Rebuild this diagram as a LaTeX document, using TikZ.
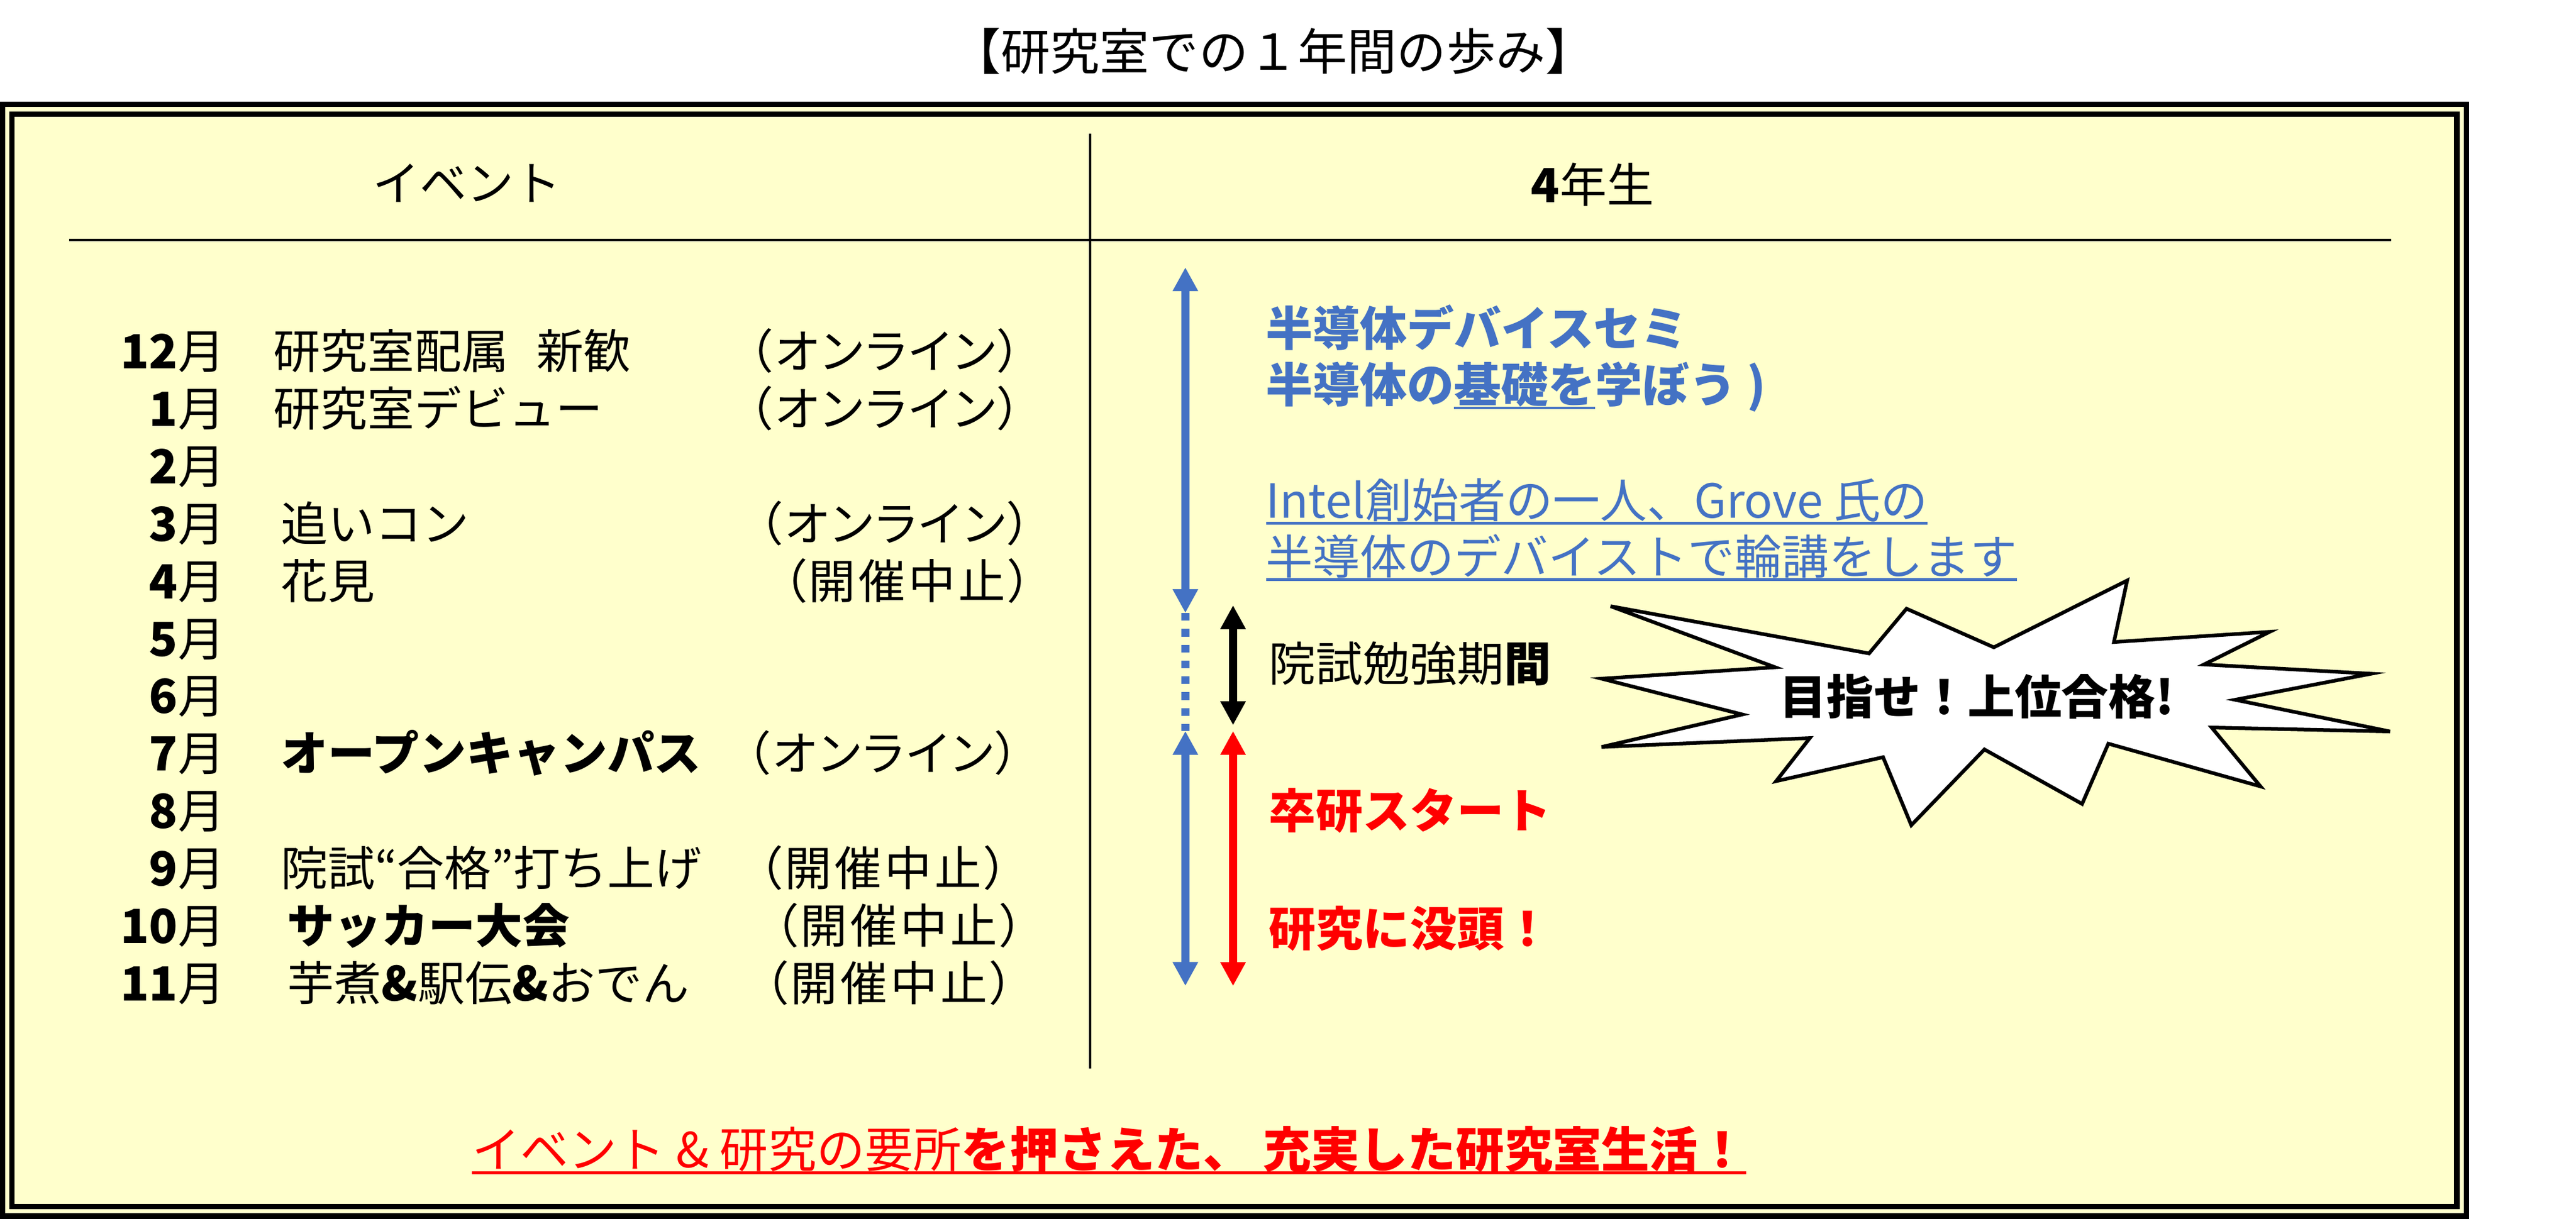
\documentclass[tikz,border=0pt]{standalone}
\usepackage{fontspec}
\setmainfont{Noto Sans CJK JP}
\newfontfamily\jpp[RawFeature=+palt,LetterSpace=6]{Noto Sans CJK JP}
\usetikzlibrary{arrows.meta,positioning}
\definecolor{paper}{HTML}{FFFFCC}
\definecolor{semiblue}{HTML}{4472C4}
\newcommand\rowfont{\fontsize{28.5}{34}\selectfont}
\newcommand\undl[1]{\setbox0=\hbox{#1}\rlap{\rule[-4pt]{\wd0}{1.5pt}}\box0}

\begin{document}
\begin{tikzpicture}[x=1pt,y=-1pt,>={Triangle[length=14.5pt,width=14.5pt]},
	txt/.style={inner sep=0pt,font=\rowfont,anchor=base west},
	month/.style={txt,anchor=base east},
	paren/.style={txt,font=\rowfont\jpp},
	blue txt/.style={txt,text=semiblue},
	red txt/.style={txt,text=red,font=\rowfont\bfseries},
	span/.style={<->,line width=5pt},
	rule/.style={line width=1.5pt}]
	\useasboundingbox (0,0) rectangle (1561,738.75);
	
	\draw[line width=3.2pt,double=paper,double distance=2.6pt,fill=paper] (4.4,66.2) rectangle (1491.7,734.1);
	\node[font=\fontsize{30}{36}\selectfont] (title) at (771.5,31) {【研究室での１年間の歩み】};
	
	\node[txt,anchor=center] (evhead) at (283,111) {イベント};
	\node[txt,anchor=center] (grade) at (965,112) {\textbf{4}年生};
	\draw[rule] (660.6,81) -- (660.6,647.5);
	\draw[rule] (42,145.3) -- (1449,145.3);
	
	% months
	\foreach \m [count=\i from 0] in {12,1,2,3,4,5,6,7,8,9,10,11}
		\node[month] (m\m) at (136.5,223.6+34.8*\i) {\textbf{\m}月};
	
	\node[txt] (ev12) [right=29pt of m12.base east,anchor=base west] {研究室配属\hspace{0.6em}新歓};
	\node[paren] (pr12) [right=317pt of m12.base east,anchor=base west] {（オンライン）};
	\node[txt] (ev1) [right=29pt of m1.base east,anchor=base west] {研究室デビュー};
	\node[paren] (pr1) [right=317pt of m1.base east,anchor=base west] {（オンライン）};
	\node[txt] (ev3) [right=33.5pt of m3.base east,anchor=base west] {追いコン};
	\node[paren] (pr3) [right=323pt of m3.base east,anchor=base west] {（オンライン）};
	\node[txt] (ev4) [right=33.5pt of m4.base east,anchor=base west] {花見};
	\node[paren] (pr4) [right=337.5pt of m4.base east,anchor=base west] {（開催中止）};
	\node[txt] (ev7) [right=33.5pt of m7.base east,anchor=base west] {\textbf{オープンキャンパス}};
	\node[paren] (pr7) [right=315.5pt of m7.base east,anchor=base west] {（オンライン）};
	\node[txt] (ev9) [right=33.5pt of m9.base east,anchor=base west] {院試“合格”打ち上げ};
	\node[paren] (pr9) [right=323pt of m9.base east,anchor=base west] {（開催中止）};
	\node[txt] (ev10) [right=37.5pt of m10.base east,anchor=base west] {\textbf{サッカー大会}};
	\node[paren] (pr10) [right=332.5pt of m10.base east,anchor=base west] {（開催中止）};
	\node[txt] (ev11) [right=37.5pt of m11.base east,anchor=base west] {芋煮\textbf{\&}駅伝\textbf{\&}おでん};
	\node[paren] (pr11) [right=326.5pt of m11.base east,anchor=base west] {（開催中止）};
	
	\node[blue txt,font=\rowfont\bfseries] (semi) at (767,209.6) {半導体デバイスセミ};
	\node[blue txt,font=\rowfont\bfseries] (kiso) at (767,244) {半導体の\undl{基礎を}学ぼう )};
	\node[blue txt] (intel) at (767,313.8) {\undl{Intel創始者の一人、Grove 氏の}};
	\node[blue txt] (rinko) at (767,348) {\undl{半導体のデバイストで輪講をします}};
	\node[txt] (inshi) at (768.7,413) {院試勉強期\textbf{間}};
	\node[red txt] (start) at (768.7,502) {卒研スタート};
	\node[red txt] (botto) at (768.7,573.5) {研究に没頭！};
	
	\coordinate (b1) at (718.3,162);
	\coordinate (b2) at (718.3,371.5);
	\coordinate (b3) at (718.3,443);
	\coordinate (b4) at (718.3,597.5);
	\coordinate (k1) at (747.2,366.8);
	\coordinate (k2) at (747.2,439.5);
	\coordinate (r1) at (747.2,443);
	\coordinate (r2) at (747.2,597.6);
	\draw[span,semiblue] (b1) -- (b2);
	\draw[semiblue,line width=5pt,dash pattern=on 4.7pt off 4.9pt] (b2) -- (b3);
	\draw[span,semiblue] (b3) -- (b4);
	\draw[span] (k1) -- (k2);
	\draw[span,red] (r1) -- (r2);
	
	% burst
	\draw[line width=2.2pt,fill=white,line join=miter] (976,367.4) -- (1075.7,404.4) -- (970.5,411.3) -- (1055.8,433)
		-- (970.5,452.7) -- (1096.7,447.3) -- (1076.3,473.4) -- (1141.1,458.9) -- (1158.2,500.1)
		-- (1202.5,454.2) -- (1261.7,487.2) -- (1277.6,450.7) -- (1369.8,476.6) -- (1340.2,440.9)
		-- (1448.3,443.3) -- (1354.4,424.1) -- (1436.9,408.3) -- (1335.6,402.7) -- (1375.4,382.9)
		-- (1281,389.1) -- (1289,351.8) -- (1208.2,392.3) -- (1155.3,368.9) -- (1132.6,396) -- cycle;
	\node[txt,anchor=center,font=\rowfont\bfseries] (goal) at (1198,422) {目指せ！上位合格!};
	
	\node[txt,text=red,font=\fontsize{29.3}{34}\selectfont] (motto) at (285.8,707.5) {\undl{イベント \& 研究の要所\textbf{を押さえた、 充実した研究室生活！}}};
\end{tikzpicture}
\end{document}
